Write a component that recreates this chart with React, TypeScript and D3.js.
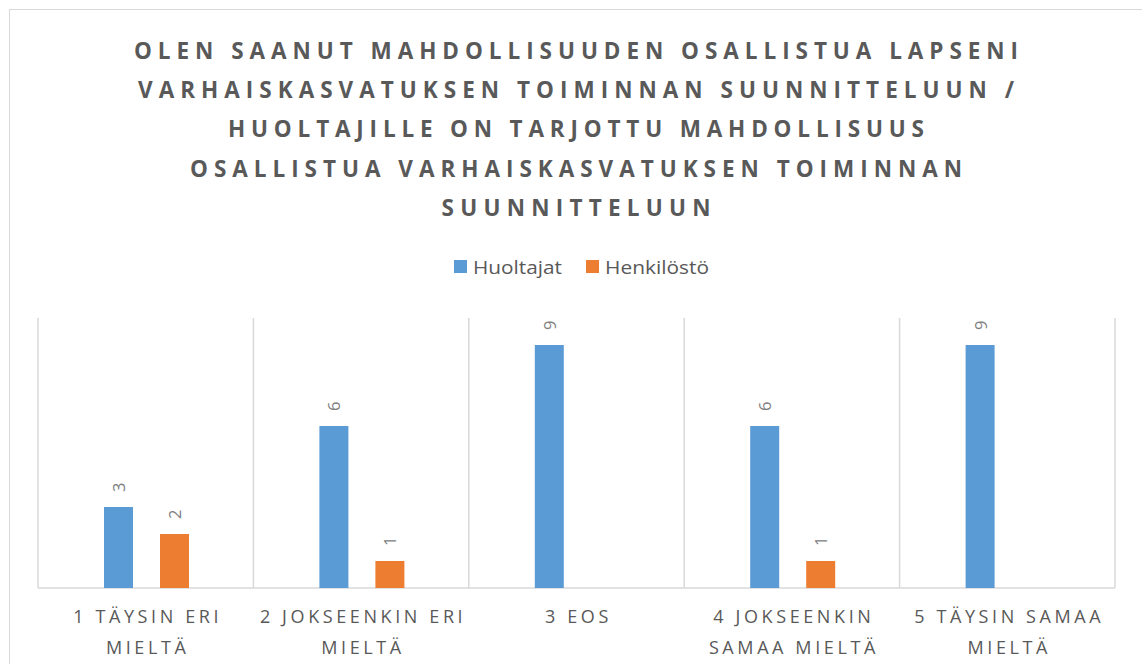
import React from "react";
import * as d3 from "d3";

const categories = [
  ["1 TÄYSIN ERI", "MIELTÄ"],
  ["2 JOKSEENKIN ERI", "MIELTÄ"],
  ["3 EOS"],
  ["4 JOKSEENKIN", "SAMAA MIELTÄ"],
  ["5 TÄYSIN SAMAA", "MIELTÄ"],
];
const seriesNames = ["Huoltajat", "Henkilöstö"];
const huoltajat = [3, 6, 9, 6, 9];
const henkilosto = [2, 1, 0, 1, 0];
const titleLines = [
  "OLEN SAANUT MAHDOLLISUUDEN OSALLISTUA LAPSENI",
  "VARHAISKASVATUKSEN TOIMINNAN SUUNNITTELUUN /",
  "HUOLTAJILLE ON TARJOTTU MAHDOLLISUUS",
  "OSALLISTUA VARHAISKASVATUKSEN TOIMINNAN",
  "SUUNNITTELUUN",
];
const titleWidths = [884, 876, 696, 772, 269];
const colors = ["#5B9BD5", "#ED7D31"];

export default function App() {
  const W = 1142, H = 664;
  const left = 38, right = 1115, top = 318, bottom = 588;
  const catKeys = categories.map((_, i) => String(i));
  const x0 = d3.scaleBand().domain(catKeys).range([left, right]).padding(0);
  const x1 = d3.scaleBand().domain(seriesNames).range([66, 151]).paddingInner(27 / 56).paddingOuter(0);
  const y = d3.scaleLinear().domain([0, 10]).range([bottom, top]);
  const values = [huoltajat, henkilosto];
  const font = "'Open Sans', 'Noto Sans', sans-serif";
  const gridXs = catKeys.map((k) => x0(k)!).concat([right]);

  return (
    <svg width={W} height={H} style={{ position: "absolute", left: 0, top: 0, background: "#fff" }} fontFamily={font}>
      <rect x={0} y={0} width={W} height={H} fill="#fff" />
      <rect x={9.5} y={9.5} width={W + 20} height={H + 20} fill="none" stroke="#d9d9d9" strokeWidth={1} />
      {titleLines.map((t, i) => (
        <text key={i} x={576} y={58.5 + i * 39.4} textAnchor="middle" fontSize={22.5} fontWeight="bold" fill="#595959"
          textLength={titleWidths[i]} lengthAdjust="spacing">{t}</text>
      ))}
      {/* legend */}
      <rect x={454} y={260} width={13} height={13} fill={colors[0]} />
      <text x={473} y={274} fontSize={18} fill="#595959" textLength={89} lengthAdjust="spacingAndGlyphs">{seriesNames[0]}</text>
      <rect x={586} y={260} width={13} height={13} fill={colors[1]} />
      <text x={605} y={274} fontSize={18} fill="#595959" textLength={104} lengthAdjust="spacingAndGlyphs">{seriesNames[1]}</text>
      {/* grid */}
      {gridXs.map((gx, i) => (
        <line key={i} x1={gx} x2={gx} y1={top} y2={bottom} stroke="#d9d9d9" strokeWidth={1.5} />
      ))}
      <line x1={left} x2={right} y1={bottom} y2={bottom} stroke="#d9d9d9" strokeWidth={1.5} />
      {/* bars */}
      {catKeys.map((k, ci) =>
        seriesNames.map((s, si) => {
          const v = values[si][ci];
          if (!v) return null;
          const bx = x0(k)! + x1(s)!;
          const bw = x1.bandwidth();
          const cx = bx + bw / 2;
          const ty = y(v) - 15;
          return (
            <g key={k + s}>
              <rect x={bx} y={y(v)} width={bw} height={bottom - y(v)} fill={colors[si]} />
              <text x={cx} y={ty} transform={`rotate(-90 ${cx} ${ty})`} textAnchor="start" dominantBaseline="central"
                fontSize={16.5} fill="#808080">{v}</text>
            </g>
          );
        })
      )}
      {/* x labels */}
      {categories.map((lines, ci) => {
        const cx = x0(String(ci))! + x0.bandwidth() / 2;
        return lines.map((ln, li) => (
          <text key={ci + "-" + li} x={cx + 2} y={623 + li * 30.5} textAnchor="middle" fontSize={18} fill="#595959"
            letterSpacing={3.6}>{ln}</text>
        ));
      })}
    </svg>
  );
}
